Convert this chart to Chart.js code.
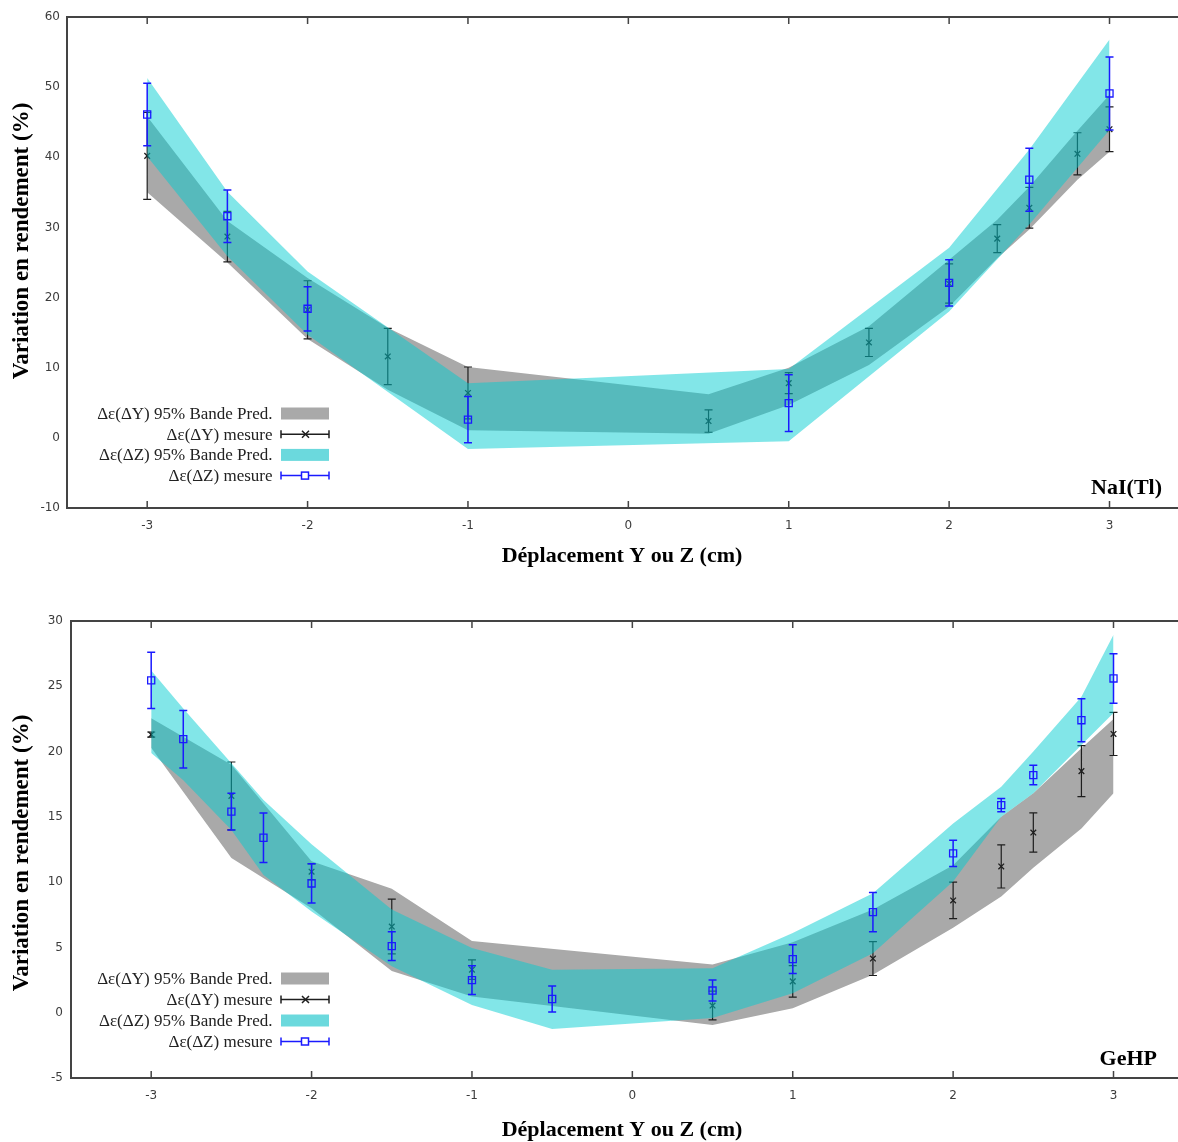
<!DOCTYPE html>
<html lang="fr">
<head>
<meta charset="utf-8">
<title>Variation en rendement</title>
<script src="https://cdn.jsdelivr.net/npm/chart.js@4.4.1/dist/chart.umd.min.js"></script>
<style>
  html, body { margin: 0; padding: 0; background: #fff; overflow: hidden; }
  body { width: 1178px; height: 1142px; position: relative; }
  canvas { position: absolute; left: 0; }
  #nai { top: 0; }
  #gehp { top: 575px; }
</style>
</head>
<body>
<canvas id="nai" width="1196" height="575"></canvas>
<canvas id="gehp" width="1200" height="575"></canvas>
<script>
const xTicks = [-3, -2, -1, 0, 1, 2, 3];

// NaI(Tl) - deplacement Y (croix noires) et bande de prediction grise
const naiYPos = [-3, -2.5, -2, -1.5, -1, 0.5, 1, 1.5, 2, 2.3, 2.5, 2.8, 3];
const naiYMes = [40.2, 28.7, 18.25, 11.6, 6.4, 2.4, 7.8, 13.6, 22.0, 28.4, 32.8, 40.5, 44.0];
const naiYErr = [6.2, 3.6, 4.15, 4.0, 3.7, 1.6, 1.5, 2.0, 2.8, 2.0, 2.9, 3.0, 3.2];
const naiYBandHi = [45.8, 30.9, 22.8, 15.7, 10.1, 6.2, 10.0, 15.9, 25.4, 31.1, 35.8, 43.8, 48.9];
const naiYBandLo = [35.0, 25.0, 14.1, 6.85, 1.1, 0.6, 4.7, 10.4, 18.7, 25.6, 29.7, 36.8, 40.8];

// NaI(Tl) - deplacement Z (carres bleus) et bande cyan
const naiZPos = [-3, -2.5, -2, -1, 1, 2, 2.5, 3];
const naiZMes = [46.1, 31.6, 18.4, 2.6, 4.95, 22.1, 36.8, 49.1];
const naiZErr = [4.45, 3.75, 3.15, 3.3, 4.05, 3.3, 4.5, 5.2];
const naiZBandHi = [51.3, 35.1, 23.7, 7.8, 9.8, 27.1, 41.1, 56.8];
const naiZBandLo = [40.1, 25.9, 14.7, -1.6, -0.5, 18.0, 30.4, 43.9];

// GeHP - deplacement Y
const gehpYPos = [-3, -2.5, -2, -1.5, -1, 0.5, 1, 1.5, 2, 2.3, 2.5, 2.8, 3];
const gehpYMes = [21.3, 16.6, 10.8, 6.6, 3.3, 0.55, 2.4, 4.15, 8.6, 11.2, 13.8, 18.5, 21.35];
const gehpYErr = [0.2, 2.6, 0.6, 2.1, 0.75, 1.1, 1.2, 1.3, 1.4, 1.65, 1.5, 1.95, 1.65];
const gehpYBandHi = [22.55, 19.0, 11.6, 9.5, 5.5, 3.7, 5.4, 7.9, 11.3, 15.0, 16.8, 20.25, 22.5];
const gehpYBandLo = [20.3, 11.85, 8.0, 3.2, 1.25, -0.95, 0.35, 2.9, 6.5, 8.9, 11.1, 14.1, 16.8];

// GeHP - deplacement Z
const gehpZPos = [-3, -2.8, -2.5, -2.3, -2, -1.5, -1, -0.5, 0.5, 1, 1.5, 2, 2.3, 2.5, 2.8, 3];
const gehpZMes = [25.45, 20.95, 15.4, 13.4, 9.9, 5.1, 2.5, 1.05, 1.7, 4.1, 7.7, 12.2, 15.9, 18.2, 22.4, 25.6];
const gehpZErr = [2.15, 2.2, 1.4, 1.9, 1.5, 1.1, 1.1, 1.0, 0.8, 1.1, 1.5, 1.0, 0.5, 0.75, 1.65, 1.9];
const gehpZBandHi = [26.2, 23.3, 19.1, 16.3, 12.9, 7.9, 4.95, 3.3, 3.4, 6.1, 9.15, 14.5, 17.3, 20.0, 24.2, 28.95];
const gehpZBandLo = [19.9, 17.8, 14.0, 10.55, 7.75, 3.55, 0.6, -1.25, -0.4, 1.5, 4.55, 10.05, 15.0, 16.8, 20.5, 22.95];

const legendLabels = ['Δε(ΔY) 95% Bande Pred.', 'Δε(ΔY) mesure', 'Δε(ΔZ) 95% Bande Pred.', 'Δε(ΔZ) mesure'];

const bandGray = '#a9a9a9';
const bandCyan = 'rgba(0, 205, 208, 0.49)';
const legendCyan = 'rgba(0, 190, 196, 0.58)';
const markBlack = '#1e1e1e';
const markBlue = '#1a1aff';
const axisColor = '#444';
const tickColor = '#3c3c3c';
const clear = 'rgba(0, 0, 0, 0)';

function points(xs, ys) {
    return xs.map((x, i) => ({ x: x, y: ys[i] }))
}

function band(xs, lo, hi, color) {
    const edge = { showLine: true, borderWidth: 0, borderColor: clear, pointRadius: 0, tension: 0 }
    return [
        Object.assign({ data: points(xs, lo), fill: false }, edge),
        Object.assign({ data: points(xs, hi), fill: '-1', backgroundColor: color }, edge)
    ]
}

function measured(xs, ys, errs, color, style) {
    return {
        data: points(xs, ys),
        errors: errs,
        showLine: false,
        borderColor: color,
        pointStyle: style,
        pointRadius: style == 'rect' ? 5 : 4,
        pointBorderWidth: 1.3,
        pointBorderColor: color,
        pointBackgroundColor: clear,
        errorWidth: style == 'rect' ? 1.5 : 1.2
    }
}

// error bars drawn right after their dataset, so the cyan band can cover the black ones
const errorBars = {
    id: 'errorBars',
    afterDatasetDraw(chart, args) {
        const ds = chart.data.datasets[args.index];
        if (!ds.errors) return;
        const { ctx, scales: { x, y } } = chart;
        ctx.save();
        ctx.strokeStyle = ds.borderColor;
        ctx.lineWidth = ds.errorWidth;
        ctx.beginPath();
        ds.data.forEach((p, i) => {
            const px = x.getPixelForValue(p.x);
            const top = y.getPixelForValue(p.y + ds.errors[i]);
            const bot = y.getPixelForValue(p.y - ds.errors[i]);
            ctx.moveTo(px, top); ctx.lineTo(px, bot);
            ctx.moveTo(px - 4, top); ctx.lineTo(px + 4, top);
            ctx.moveTo(px - 4, bot); ctx.lineTo(px + 4, bot);
        });
        ctx.stroke();
        ctx.restore();
    }
}

function frame(cfg) {
    return {
        id: 'frame',
        afterDraw(chart) {
            const { ctx, chartArea: area, scales: { x } } = chart;
            ctx.save();

            ctx.strokeStyle = axisColor;
            ctx.lineWidth = 2;
            ctx.beginPath();
            ctx.moveTo(area.left - 1, area.top);
            ctx.lineTo(area.right, area.top);
            ctx.stroke();

            ctx.lineWidth = 1.5;
            ctx.beginPath();
            for (const t of x.ticks) {
                const px = x.getPixelForValue(t.value);
                ctx.moveTo(px, area.top); ctx.lineTo(px, area.top + 7);
                ctx.moveTo(px, area.bottom); ctx.lineTo(px, area.bottom - 7);
            }
            ctx.stroke();

            ctx.fillStyle = '#000';
            ctx.textAlign = 'center';
            ctx.textBaseline = 'middle';
            ctx.font = 'bold 22px "Liberation Serif"';
            ctx.fillText('Déplacement Y ou Z (cm)', 622, cfg.xTitleY);

            ctx.save();
            ctx.translate(22, cfg.yTitleY);
            ctx.rotate(-Math.PI / 2);
            ctx.font = 'bold 23px "Liberation Serif"';
            ctx.fillText('Variation en rendement (%)', 0, 0);
            ctx.restore();

            ctx.textAlign = 'right';
            ctx.textBaseline = 'alphabetic';
            ctx.font = 'bold 22px "Liberation Serif"';
            ctx.fillText(cfg.label, cfg.labelX, cfg.labelY);

            // legend, text on the left of its symbol
            ctx.font = '17px "Liberation Serif"';
            ctx.textBaseline = 'middle';
            legendLabels.forEach((text, i) => {
                const y = cfg.legendTop + i * cfg.legendGap;
                ctx.fillStyle = '#222';
                ctx.fillText(text, 272.5, y + 1);
                if (i % 2 == 0) {
                    ctx.fillStyle = i == 0 ? bandGray : legendCyan;
                    ctx.fillRect(281, y - 6, 48, 12);
                    return;
                }
                const color = i == 1 ? markBlack : markBlue;
                ctx.strokeStyle = color;
                ctx.lineWidth = 1.5;
                ctx.beginPath();
                ctx.moveTo(281, y); ctx.lineTo(329, y);
                ctx.moveTo(281, y - 4); ctx.lineTo(281, y + 4);
                ctx.moveTo(329, y - 4); ctx.lineTo(329, y + 4);
                ctx.stroke();
                if (i == 1) {
                    ctx.beginPath();
                    ctx.moveTo(302, y - 3.5); ctx.lineTo(309, y + 3.5);
                    ctx.moveTo(302, y + 3.5); ctx.lineTo(309, y - 3.5);
                    ctx.stroke();
                } else {
                    ctx.fillStyle = '#fff';
                    ctx.fillRect(301.5, y - 3.5, 7, 7);
                    ctx.strokeRect(301.5, y - 3.5, 7, 7);
                }
            });

            ctx.restore();
        }
    }
}

function createChart(target, cfg) {
    const ctx = document.getElementById(target).getContext('2d');
    // index order = draw order reversed: gray band, black bars, cyan band, blue bars
    const datasets = [
        measured(cfg.zPos, cfg.zMes, cfg.zErr, markBlue, 'rect'),
        ...band(cfg.zPos, cfg.zLo, cfg.zHi, bandCyan),
        measured(cfg.yPos, cfg.yMes, cfg.yErr, markBlack, 'crossRot'),
        ...band(cfg.yPos, cfg.yLo, cfg.yHi, bandGray)
    ];
    const tickFont = { family: 'DejaVu Sans', size: 12 };

    return new Chart(ctx, {
        type: 'line',
        data: { datasets: datasets },
        options: {
            responsive: false,
            animation: false,
            events: [],
            layout: { padding: { top: cfg.padTop, left: 0, right: 0, bottom: 0 } },
            scales: {
                x: {
                    type: 'linear',
                    min: -3.5,
                    max: 3.5,
                    afterBuildTicks: s => { s.ticks = xTicks.map(v => ({ value: v })) },
                    afterFit: s => { s.height = cfg.xHeight },
                    grid: { display: false, drawTicks: false },
                    border: { display: true, color: axisColor, width: 2 },
                    ticks: { padding: 11, color: tickColor, font: tickFont }
                },
                y: {
                    min: cfg.yMin,
                    max: cfg.yMax,
                    afterFit: s => { s.width = cfg.yWidth },
                    grid: { display: false, drawTicks: false },
                    border: { display: true, color: axisColor, width: 2 },
                    ticks: { stepSize: cfg.yStep, padding: cfg.yPad, color: tickColor, font: tickFont }
                }
            },
            plugins: {
                legend: { display: false },
                tooltip: { enabled: false }
            }
        },
        plugins: [errorBars, frame(cfg)]
    });
}

createChart('nai', {
    yPos: naiYPos, yMes: naiYMes, yErr: naiYErr, yLo: naiYBandLo, yHi: naiYBandHi,
    zPos: naiZPos, zMes: naiZMes, zErr: naiZErr, zLo: naiZBandLo, zHi: naiZBandHi,
    yMin: -10, yMax: 60, yStep: 10, yWidth: 67, yPad: 7,
    padTop: 17, xHeight: 67,
    xTitleY: 556.5, yTitleY: 241,
    label: 'NaI(Tl)', labelX: 1162, labelY: 494,
    legendTop: 413.5, legendGap: 20.7
});

createChart('gehp', {
    yPos: gehpYPos, yMes: gehpYMes, yErr: gehpYErr, yLo: gehpYBandLo, yHi: gehpYBandHi,
    zPos: gehpZPos, zMes: gehpZMes, zErr: gehpZErr, zLo: gehpZBandLo, zHi: gehpZBandHi,
    yMin: -5, yMax: 30, yStep: 5, yWidth: 71, yPad: 8,
    padTop: 46, xHeight: 72,
    xTitleY: 555, yTitleY: 278,
    label: 'GeHP', labelX: 1157, labelY: 490,
    legendTop: 403.5, legendGap: 21
});
</script>
</body>
</html>
